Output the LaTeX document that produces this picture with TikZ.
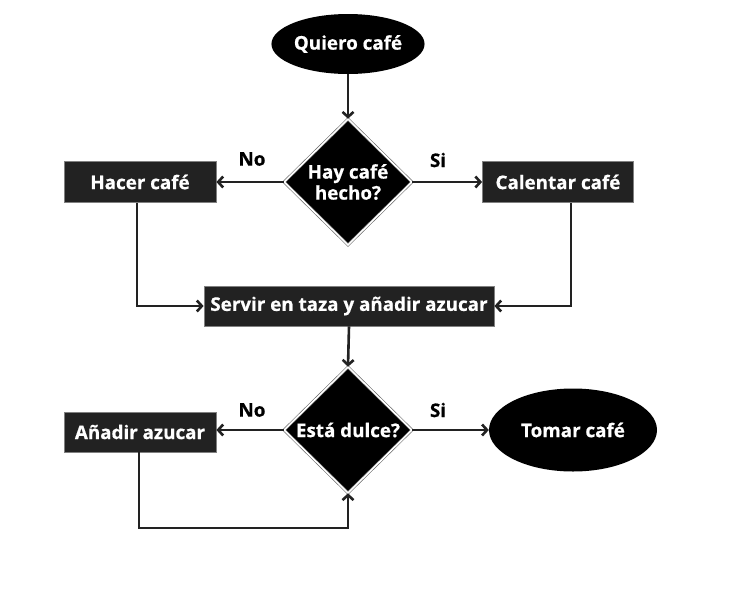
\documentclass[tikz,border=0pt]{standalone}
\usepackage{fontspec}
\setmainfont{Open Sans}[BoldFeatures={FakeBold=0.6}]
\usetikzlibrary{arrows.meta,shapes.geometric}
\definecolor{boxfill}{HTML}{222222}
\definecolor{linec}{HTML}{222222}
\tikzset{
  every node/.style={font=\bfseries\fontsize{18.8}{21}\selectfont},
  terminal/.style={ellipse, fill=black, text=white, inner sep=0pt},
  procbox/.style={rectangle, fill=boxfill, draw=black!50, line width=0.8pt, text=white, inner sep=0pt},
  decision/.style={diamond, fill=black, draw=black!60, double=white, double distance=1.6pt, line width=0.6pt, text=white, inner sep=0pt, minimum width=128pt, minimum height=126pt, align=center},
  conn/.style={draw=linec, line width=2.6pt, -{Straight Barb[length=5pt,width=11pt,line width=2.6pt]}},
  lbl/.style={text=black}
}
\begin{document}
\begin{tikzpicture}[x=1pt,y=-1pt]
\useasboundingbox (0,0) rectangle (734,603);
\node[terminal, minimum width=148pt, minimum height=60pt] (start) at (348,44) {Quiero café};
\node[decision] (d1) at (348,182) {Hay café\\hecho?};
\node[procbox, minimum width=152pt, minimum height=41pt] (hacer) at (140,182) {Hacer café};
\node[procbox, minimum width=151pt, minimum height=41pt] (calentar) at (558,182) {Calentar café};
\node[procbox, minimum width=290pt, minimum height=40pt] (servir) at (349,306) {Servir en taza y añadir azucar};
\node[decision] (d2) at (348,430) {Está dulce?};
\node[procbox, minimum width=152pt, minimum height=40pt] (anadir) at (140,432) {Añadir azucar};
\node[terminal, minimum width=168pt, minimum height=83pt] (tomar) at (573,430) {Tomar café};
\node[lbl] (no1) at (252,159) {No};
\node[lbl] (si1) at (438,160) {Si};
\node[lbl] (no2) at (252,410) {No};
\node[lbl] (si2) at (438,410) {Si};
\coordinate (c1) at (137,306);
\coordinate (c2) at (571,306);
\coordinate (c3) at (139,528);
\coordinate (c4) at (348,528);
\draw[conn] (start.south) -- (d1.north);
\draw[conn] (d1.west) -- (hacer.east);
\draw[conn] (d1.east) -- (calentar.west);
\draw[conn] (hacer.south -| c1) -- (c1) -- (servir.west);
\draw[conn] (calentar.south -| c2) -- (c2) -- (servir.east);
\draw[conn] (servir.south) -- (d2.north);
\draw[conn] (d2.west) -- (anadir.east |- d2.west);
\draw[conn] (d2.east) -- (tomar.west);
\draw[conn] (anadir.south -| c3) -- (c3) -- (c4) -- (d2.south);
\end{tikzpicture}
\end{document}
